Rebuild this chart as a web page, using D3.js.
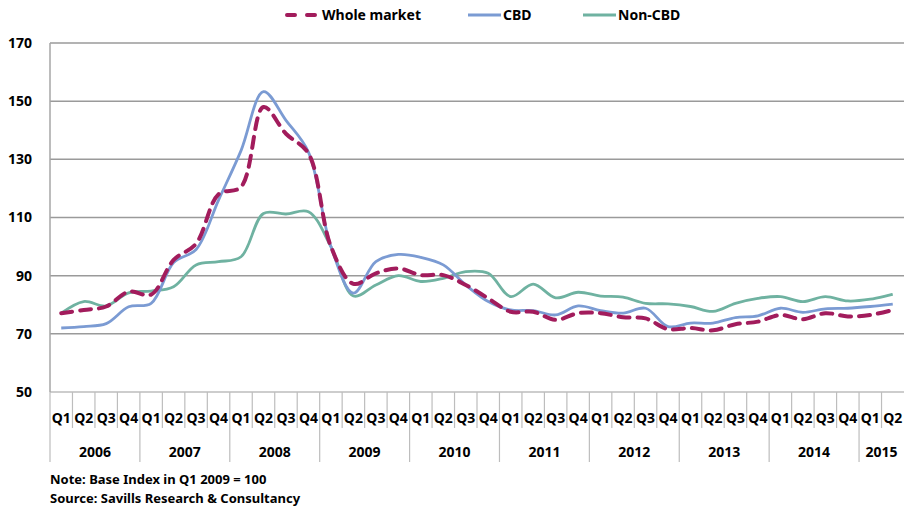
<!DOCTYPE html>
<html>
<head>
<meta charset="utf-8">
<script src="https://cdn.jsdelivr.net/npm/d3@7"></script>
<style>
  body { margin: 0; background: #fff; }
  text { font-family: "Noto Sans", sans-serif; font-weight: bold; fill: #000; }
</style>
</head>
<body>
<div id="chart"></div>
<script>
var years = ["2006", "2007", "2008", "2009", "2010", "2011", "2012", "2013", "2014", "2015"];
var quarterNames = ["Q1", "Q2", "Q3", "Q4"];
var yTicks = [50, 70, 90, 110, 130, 150, 170];

var wholeMarket = [77.1, 78.2, 79.4, 84.5, 83.5, 95.4, 101, 118, 120.5, 148, 138.8, 132,
    100, 87.2, 90.8, 92.5, 90.2, 90.2, 86.8, 82.2, 77.6, 77.6, 74.8, 77.1,
    77.1, 75.7, 75.3, 71.6, 72, 71.2, 73.3, 74.2, 76.5, 75, 77.1, 76, 76.5, 78.2];
var cbd = [72, 72.5, 73.5, 79.3, 80.5, 94.5, 99, 116, 133, 153.3, 143.4, 132.5,
    100, 84, 94.8, 97.3, 96.3, 93.7, 86.8, 81.1, 78.2, 78, 76.5, 79.6,
    78, 77.1, 78.8, 72.5, 73.7, 73.7, 75.6, 76.2, 78.8, 77.4, 78.6, 78.8, 79.4, 80.2];
var nonCbd = [77.1, 81.1, 79.6, 84.1, 84.7, 86.2, 93.7, 94.8, 96.5, 111.4, 111.2, 112,
    100, 83, 86.8, 90, 88, 89.1, 91.4, 90.8, 82.8, 87.1, 82.4, 84.3,
    83, 82.6, 80.5, 80.3, 79.4, 77.7, 80.5, 82.2, 82.8, 81.1, 82.8, 81.3, 81.9, 83.6];

var width = 904, height = 513;
var plotLeft = 50, plotRight = 904, plotTop = 43, plotBottom = 392;

// quarter keys like "2006 Q1" ... "2015 Q2"
var quarters = [];
years.forEach(function(yr) {
    quarterNames.forEach(function(q) {
        if (quarters.length < wholeMarket.length) quarters.push({year: yr, q: q, key: yr + " " + q});
    });
});

var x = d3.scaleBand()
    .domain(quarters.map(function(d) { return d.key; }))
    .range([plotLeft, plotRight])
    .padding(0);

var y = d3.scaleLinear()
    .domain([50, 170])
    .range([plotBottom, plotTop]);

var svg = d3.select("#chart")
    .append("svg")
    .attr("width", width)
    .attr("height", height);

// gridlines
svg.append("g")
    .selectAll("line")
    .data(yTicks)
    .enter()
    .append("line")
    .attr("x1", plotLeft)
    .attr("x2", plotRight)
    .attr("y1", function(d) { return y(d); })
    .attr("y2", function(d) { return y(d); })
    .attr("stroke", function(d) { return d == 50 ? "#bdbdbd" : "#9a9a9a"; })
    .attr("stroke-width", 1.5);

// y axis line
svg.append("line")
    .attr("x1", plotLeft).attr("x2", plotLeft)
    .attr("y1", plotTop).attr("y2", plotBottom)
    .attr("stroke", "#a6a6a6")
    .attr("stroke-width", 1.5);

// y labels
svg.append("g")
    .selectAll("text")
    .data(yTicks)
    .enter()
    .append("text")
    .attr("x", 32)
    .attr("y", function(d) { return y(d); })
    .attr("dy", "0.35em")
    .attr("text-anchor", "end")
    .attr("font-size", 14)
    .text(function(d) { return d; });

// quarter ticks, year separators run further down
var bw = x.bandwidth();
svg.append("g")
    .selectAll("line")
    .data(quarters)
    .enter()
    .append("line")
    .attr("x1", function(d) { return x(d.key); })
    .attr("x2", function(d) { return x(d.key); })
    .attr("y1", plotBottom)
    .attr("y2", function(d) { return d.q == "Q1" ? 462 : 428; })
    .attr("stroke", "#bdbdbd")
    .attr("stroke-width", 1.2);

svg.append("g")
    .selectAll("text")
    .data(quarters)
    .enter()
    .append("text")
    .attr("x", function(d) { return x(d.key) + bw / 2; })
    .attr("y", 418)
    .attr("dy", "0.35em")
    .attr("text-anchor", "middle")
    .attr("font-size", 14)
    .text(function(d) { return d.q; });

// year labels centred under their quarters
svg.append("g")
    .selectAll("text")
    .data(years)
    .enter()
    .append("text")
    .attr("x", function(yr) {
        var qs = quarters.filter(function(d) { return d.year == yr; });
        return (x(qs[0].key) + x(qs[qs.length - 1].key) + bw) / 2;
    })
    .attr("y", 452)
    .attr("dy", "0.35em")
    .attr("text-anchor", "middle")
    .attr("font-size", 14)
    .text(function(d) { return d; });

// series
var series = [
    {name: "Whole market", values: wholeMarket, color: "#a21c5c", width: 4, dash: "11,8"},
    {name: "CBD", values: cbd, color: "#7b9bd3", width: 2.8, dash: null},
    {name: "Non-CBD", values: nonCbd, color: "#6fb2a1", width: 2.8, dash: null}
];

var line = d3.line()
    .x(function(d, i) { return x(quarters[i].key) + bw / 2; })
    .y(function(d) { return y(d); })
    .curve(d3.curveCatmullRom.alpha(0.5));

[series[2], series[1], series[0]].forEach(function(s) {
    svg.append("path")
        .datum(s.values)
        .attr("d", line)
        .attr("fill", "none")
        .attr("stroke", s.color)
        .attr("stroke-width", s.width)
        .attr("stroke-linecap", s.dash ? "round" : "butt")
        .attr("stroke-dasharray", s.dash);
});

// legend
var legendX = [287, 468, 583];
var legend = svg.append("g")
    .selectAll("g")
    .data(series)
    .enter()
    .append("g")
    .attr("transform", function(d, i) { return "translate(" + legendX[i] + ",15)"; });

legend.append("line")
    .attr("x1", 0).attr("x2", 33)
    .attr("y1", 0).attr("y2", 0)
    .attr("stroke", function(d) { return d.color; })
    .attr("stroke-width", function(d) { return d.dash ? 4 : 2.8; })
    .attr("stroke-linecap", function(d) { return d.dash ? "round" : "butt"; })
    .attr("stroke-dasharray", function(d) { return d.dash ? "8,12" : null; });

legend.append("text")
    .attr("x", 35)
    .attr("dy", "0.35em")
    .attr("font-size", 14)
    .text(function(d) { return d.name; });

// notes
svg.append("text")
    .attr("x", 50).attr("y", 479).attr("dy", "0.35em")
    .attr("font-size", 13)
    .text("Note: Base Index in Q1 2009 = 100");
svg.append("text")
    .attr("x", 50).attr("y", 498).attr("dy", "0.35em")
    .attr("font-size", 13)
    .text("Source: Savills Research & Consultancy");
</script>
</body>
</html>
